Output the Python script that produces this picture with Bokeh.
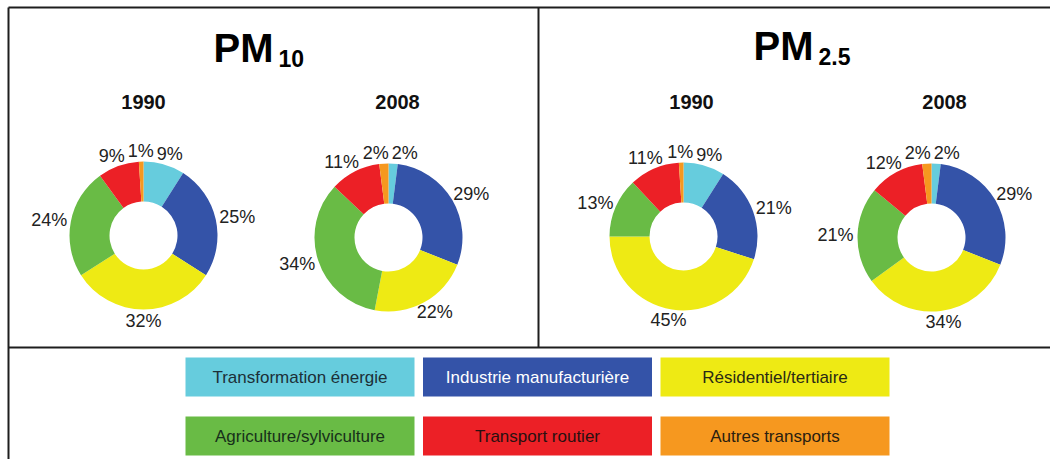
import numpy as np
from bokeh.plotting import figure
from bokeh.models import ColumnDataSource, Range1d
from bokeh.embed import file_html
from bokeh.resources import INLINE
from bokeh.core.properties import value

# ---------------- data ----------------
categories = ["Transformation énergie", "Industrie manufacturière", "Résidentiel/tertiaire",
              "Agriculture/sylviculture", "Transport routier", "Autres transports"]
colors = ["#66CCDD", "#3453A8", "#EEEA14", "#69BB45", "#EC2026", "#F6981F"]
legend_text_colors = ["#1c3038", "#ffffff", "#2a2a14", "#17301a", "#2a1010", "#2a2010"]

pollutants = ["PM", "PM"]
pollutant_subs = ["10", "2.5"]
years = ["1990", "2008"]

pm10_1990 = [9, 25, 32, 24, 9, 1]
pm10_2008 = [2, 29, 22, 34, 11, 2]
pm25_1990 = [9, 21, 45, 13, 11, 1]
pm25_2008 = [2, 29, 34, 21, 12, 2]

series = [pm10_1990, pm10_2008, pm25_1990, pm25_2008]
series_years = [years[0], years[1], years[0], years[1]]

# ---------------- layout ----------------
W, H = 1050, 459
OX, OY = 0, 0
FONT = "Liberation Sans"

def X(ix):
    return ix - OX

def Y(iy):
    return H - (iy - OY)

p = figure(width=W, height=H, output_backend="svg", toolbar_location=None,
           x_range=Range1d(0, W), y_range=Range1d(0, H), min_border=0,
           background_fill_color="white", border_fill_color="white")
p.axis.visible = False
p.grid.visible = False
p.outline_line_color = None

# frame lines (image coords)
p.segment(x0=[X(8), X(8), X(538), X(8)], y0=[Y(7), Y(7), Y(7), Y(347)],
          x1=[X(8), X(1050), X(538), X(1050)], y1=[Y(470), Y(7), Y(347), Y(347)],
          line_color="#1e1e1e", line_width=2)

# titles
title_x = [X(213), X(753)]
title_y = [Y(47), Y(45)]
p.text(x=title_x, y=title_y, text=pollutants, text_font=value(FONT), text_font_style="bold",
       text_font_size="40px", text_align="left", text_baseline="alphabetic", text_color="#000000")
sub_x = [x + 65 for x in title_x]
sub_y = [y - 11 for y in title_y]
p.text(x=sub_x, y=sub_y, text=pollutant_subs, text_font=value(FONT), text_font_style="bold",
       text_font_size="23px", text_align="left", text_baseline="alphabetic", text_color="#000000")

# donuts
centers_x = [X(143), X(388), X(683), X(931)]
centers_y = [Y(235), Y(237), Y(236), Y(237)]
R_OUT, R_IN = 74, 34
FS = 18

def text_w(s, fs):
    w = 0
    for ch in s:
        w += (0.889 if ch == "%" else 0.278 if ch == "." else 0.556) * fs
    return w

for k, vals in enumerate(series):
    cx, cy = centers_x[k], centers_y[k]
    v = np.array(vals, dtype=float)
    tot = v.sum()
    cum = np.cumsum(v)
    st = cum - v
    start_angle = np.pi / 2 - 2 * np.pi * cum / tot
    end_angle = np.pi / 2 - 2 * np.pi * st / tot
    src = ColumnDataSource(dict(x=[cx] * len(v), y=[cy] * len(v),
                                sa=start_angle, ea=end_angle, color=colors))
    p.annular_wedge(x="x", y="y", inner_radius=R_IN, outer_radius=R_OUT,
                    inner_radius_units="screen", outer_radius_units="screen",
                    start_angle="sa", end_angle="ea", fill_color="color",
                    line_color=None, source=src)

    # labels
    theta = 2 * np.pi * (st + v / 2) / tot
    labels = [f"{int(a)}%" for a in vals]
    ws = np.array([text_w(s, FS) for s in labels])
    hs = np.full(len(labels), 14.0)
    lx = cx + (R_OUT + 4) * np.sin(theta) + np.sin(theta) * ws / 2
    ly = cy + (R_OUT + 4) * np.cos(theta) + np.cos(theta) * hs / 2
    # simple horizontal de-overlap
    for _ in range(30):
        for i in range(len(lx)):
            for j in range(i + 1, len(lx)):
                need = (ws[i] + ws[j]) / 2 + 3
                dx = lx[j] - lx[i]
                if abs(dx) < need and abs(ly[j] - ly[i]) < (hs[i] + hs[j]) / 2:
                    sh = (need - abs(dx)) / 2
                    sgn = 1 if dx >= 0 else -1
                    lx[i] -= sgn * sh
                    lx[j] += sgn * sh
    p.text(x=lx, y=ly, text=labels, text_font=value(FONT), text_font_size=f"{FS}px",
           text_align="center", text_baseline="middle", text_color="#222222")

# year labels
year_x = [X(143), X(397), X(691), X(944)]
p.text(x=year_x, y=[Y(101)] * 4, text=series_years, text_font=value(FONT),
       text_font_style="bold", text_font_size="20px", text_align="center",
       text_baseline="middle", text_color="#111111")

# legend
col = np.arange(len(categories)) % 3
row = np.arange(len(categories)) // 3
left = X(185) + col * 237.5
right = left + 229
top = Y(357) - row * 59
bottom = top - 39
lsrc = ColumnDataSource(dict(left=left, right=right, top=top, bottom=bottom, color=colors,
                             tx=(left + right) / 2, ty=(top + bottom) / 2,
                             label=categories, tcolor=legend_text_colors))
p.quad(left="left", right="right", top="top", bottom="bottom", fill_color="color",
       line_color=None, source=lsrc)
p.text(x="tx", y="ty", text="label", text_color="tcolor", text_font=value(FONT),
       text_font_size="17px", text_align="center", text_baseline="middle", source=lsrc)

open("out.html", "w").write(file_html(p, INLINE))
